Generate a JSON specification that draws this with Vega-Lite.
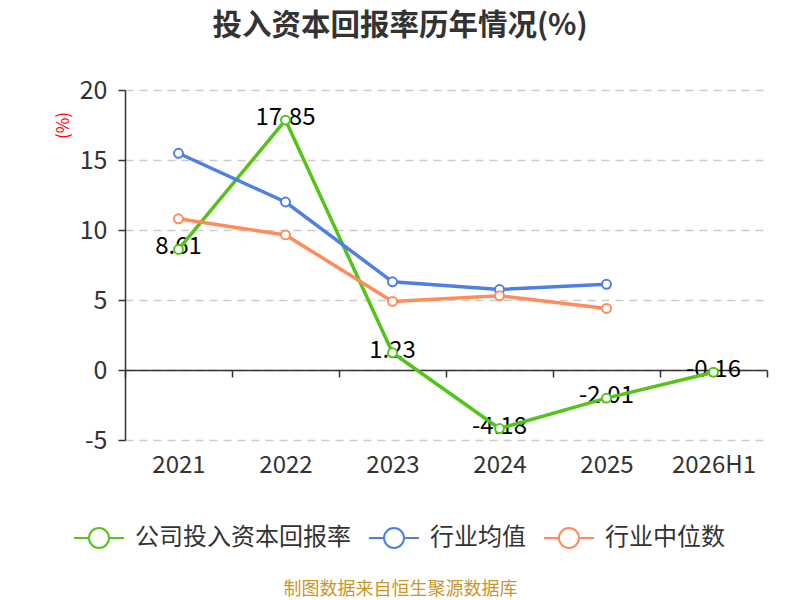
{
  "$schema": "https://vega.github.io/schema/vega-lite/v6.json",
  "width": 642,
  "height": 350,
  "autosize": "none",
  "padding": {"left": 125, "top": 90, "right": 33, "bottom": 160},
  "background": "white",
  "config": {
    "font": "Noto Sans CJK SC",
    "view": {"stroke": null},
    "locale": {
      "number": {"decimal": ".", "thousands": ",", "grouping": [3], "currency": ["$", ""], "minus": "-"}
    },
    "axis": {"labelFont": "Noto Sans CJK SC", "titleFont": "Noto Sans CJK SC"}
  },
  "title": {
    "text": "投入资本回报率历年情况(%)",
    "fontSize": 29.5,
    "fontWeight": "bold",
    "color": "#333333",
    "anchor": "middle",
    "frame": "group",
    "dx": -46,
    "offset": 37
  },
  "data": {
    "values": [
      {"year": "2021", "series": "公司投入资本回报率", "value": 8.61},
      {"year": "2022", "series": "公司投入资本回报率", "value": 17.85},
      {"year": "2023", "series": "公司投入资本回报率", "value": 1.23},
      {"year": "2024", "series": "公司投入资本回报率", "value": -4.18},
      {"year": "2025", "series": "公司投入资本回报率", "value": -2.01},
      {"year": "2026H1", "series": "公司投入资本回报率", "value": -0.16},
      {"year": "2021", "series": "行业均值", "value": 15.48},
      {"year": "2022", "series": "行业均值", "value": 12.0},
      {"year": "2023", "series": "行业均值", "value": 6.3},
      {"year": "2024", "series": "行业均值", "value": 5.75},
      {"year": "2025", "series": "行业均值", "value": 6.12},
      {"year": "2021", "series": "行业中位数", "value": 10.8},
      {"year": "2022", "series": "行业中位数", "value": 9.65},
      {"year": "2023", "series": "行业中位数", "value": 4.9},
      {"year": "2024", "series": "行业中位数", "value": 5.3},
      {"year": "2025", "series": "行业中位数", "value": 4.4}
    ]
  },
  "encoding": {
    "x": {
      "field": "year",
      "type": "nominal",
      "sort": null,
      "scale": {"type": "band", "paddingInner": 0, "paddingOuter": 0},
      "axis": {
        "title": "制图数据来自恒生聚源数据库",
        "titleFontSize": 18,
        "titleFontWeight": "normal",
        "titleColor": "#c9962b",
        "titlePadding": 103,
        "titleX": 275,
        "titleAlign": "center",
        "offset": -70,
        "labelAngle": 0,
        "labelFontSize": 24,
        "labelColor": "#333333",
        "labelPadding": 76,
        "domainColor": "#333333",
        "domainWidth": 1.5,
        "tickColor": "#333333",
        "tickWidth": 1.5,
        "tickSize": 7,
        "tickBand": "extent",
        "grid": false
      }
    },
    "y": {
      "field": "value",
      "type": "quantitative",
      "scale": {"domain": [-5, 20], "nice": false, "zero": false},
      "axis": {
        "title": "(%)",
        "titleColor": "#ff0000",
        "titleFontSize": 17,
        "titleFontWeight": "normal",
        "titleAngle": -90,
        "titleAlign": "center",
        "titleBaseline": "middle",
        "titleX": -62,
        "titleY": 35,
        "values": [-5, 0, 5, 10, 15, 20],
        "labelFontSize": 25,
        "labelColor": "#333333",
        "labelPadding": 11,
        "domainColor": "#333333",
        "domainWidth": 1.5,
        "tickColor": "#333333",
        "tickWidth": 1.5,
        "tickSize": 7,
        "grid": true,
        "gridColor": "#cccccc",
        "gridWidth": 1.5,
        "gridDash": [8, 6]
      }
    },
    "color": {
      "field": "series",
      "type": "nominal",
      "scale": {
        "domain": ["公司投入资本回报率", "行业均值", "行业中位数"],
        "range": ["#55c41a", "#4f7fe3", "#ff8c5a"]
      },
      "legend": {
        "title": null,
        "orient": "none",
        "direction": "horizontal",
        "legendX": -52,
        "legendY": 422,
        "labelFontSize": 24,
        "labelLimit": 0,
        "labelColor": "#333333",
        "labelFont": "Noto Sans CJK SC",
        "symbolType": "M -1 0 L -0.4 0 M 0.4 0 A 0.4 0.4 0 1 1 -0.4 0 A 0.4 0.4 0 1 1 0.4 0 M 0.4 0 L 1 0",
        "symbolSize": 2500,
        "symbolStrokeWidth": 2,
        "symbolFillColor": "white",
        "labelOffset": 10,
        "columnPadding": 14
      }
    }
  },
  "layer": [
    {
      "transform": [{"filter": "datum.series === '公司投入资本回报率'"}],
      "mark": {"type": "text", "fontSize": 24, "color": "#000000", "baseline": "middle", "dy": -2},
      "encoding": {
        "text": {"field": "value", "type": "quantitative", "format": ".2f"},
        "color": {"value": "#000000"}
      }
    },
    {
      "mark": {"type": "line", "strokeWidth": 3.5}
    },
    {
      "mark": {"type": "point", "shape": "circle", "filled": false, "fill": "white", "fillOpacity": 1, "opacity": 1, "size": 80, "strokeWidth": 2}
    }
  ]
}
